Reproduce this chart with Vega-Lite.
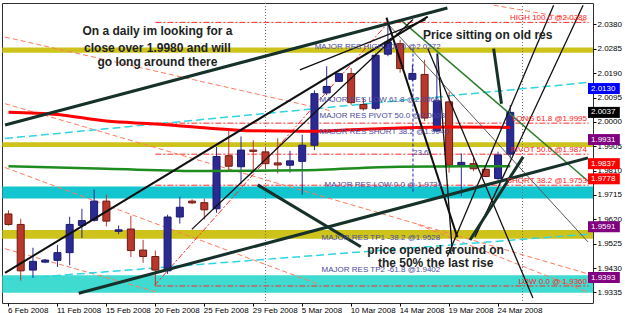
{
"$schema": "https://vega.github.io/schema/vega-lite/v6.json",
"width": 591, "height": 300,
"autosize": {"type": "none"},
"padding": {"left": 2, "top": 3, "right": 32, "bottom": 10},
"background": "#FFFFFF",
"config": {"view": {"stroke": "#303030", "strokeWidth": 1}, "axis": {"labelFont": "Liberation Sans", "labelFontSize": 8, "labelColor": "#000000", "tickColor": "#000000", "domain": false, "grid": false, "title": null, "labelOverlap": false, "labelFlush": false, "labelBound": false}},
"datasets": {
"candles": [
{"i":0,"o":1.9641,"h":1.9655,"l":1.9595,"c":1.9600},
{"i":1,"o":1.9600,"h":1.9622,"l":1.9381,"c":1.9419},
{"i":2,"o":1.9422,"h":1.9509,"l":1.9392,"c":1.9456},
{"i":3,"o":1.9453,"h":1.9465,"l":1.9449,"c":1.9461},
{"i":4,"o":1.9460,"h":1.9520,"l":1.9434,"c":1.9490},
{"i":5,"o":1.9490,"h":1.9630,"l":1.9441,"c":1.9600},
{"i":6,"o":1.9596,"h":1.9661,"l":1.9547,"c":1.9615},
{"i":7,"o":1.9616,"h":1.9736,"l":1.9611,"c":1.9691},
{"i":8,"o":1.9691,"h":1.9716,"l":1.9592,"c":1.9613},
{"i":9,"o":1.9573,"h":1.9596,"l":1.9562,"c":1.9579},
{"i":10,"o":1.9582,"h":1.9634,"l":1.9473,"c":1.9498},
{"i":11,"o":1.9500,"h":1.9540,"l":1.9450,"c":1.9475},
{"i":12,"o":1.9475,"h":1.9498,"l":1.9362,"c":1.9422},
{"i":13,"o":1.9419,"h":1.9638,"l":1.9407,"c":1.9629},
{"i":14,"o":1.9629,"h":1.9708,"l":1.9603,"c":1.9667},
{"i":15,"o":1.9691,"h":1.9698,"l":1.9679,"c":1.9684},
{"i":16,"o":1.9685,"h":1.9701,"l":1.9620,"c":1.9657},
{"i":17,"o":1.9661,"h":1.9902,"l":1.9645,"c":1.9865},
{"i":18,"o":1.9868,"h":1.9972,"l":1.9808,"c":1.9827},
{"i":19,"o":1.9825,"h":1.9943,"l":1.9758,"c":1.9890},
{"i":20,"o":1.9890,"h":1.9928,"l":1.9802,"c":1.9885},
{"i":21,"o":1.9883,"h":1.9900,"l":1.9815,"c":1.9837},
{"i":22,"o":1.9840,"h":1.9936,"l":1.9799,"c":1.9832},
{"i":23,"o":1.9831,"h":1.9887,"l":1.9802,"c":1.9848},
{"i":24,"o":1.9846,"h":1.9950,"l":1.9716,"c":1.9909},
{"i":25,"o":1.9909,"h":2.0123,"l":1.9890,"c":2.0110},
{"i":26,"o":2.0113,"h":2.0217,"l":2.0104,"c":2.0138},
{"i":27,"o":2.0158,"h":2.0192,"l":2.0155,"c":2.0188},
{"i":28,"o":2.0188,"h":2.0210,"l":2.0067,"c":2.0075},
{"i":29,"o":2.0068,"h":2.0093,"l":2.0044,"c":2.0051},
{"i":30,"o":2.0053,"h":2.0267,"l":2.0047,"c":2.0260},
{"i":31,"o":2.0264,"h":2.0388,"l":2.0256,"c":2.0311},
{"i":32,"o":2.0305,"h":2.0320,"l":2.0192,"c":2.0208},
{"i":33,"o":2.0166,"h":2.0223,"l":2.0158,"c":2.0189},
{"i":34,"o":2.0185,"h":2.0242,"l":2.0003,"c":2.0015},
{"i":35,"o":1.9965,"h":2.0267,"l":1.9959,"c":2.0082},
{"i":36,"o":2.0078,"h":2.0116,"l":1.9802,"c":1.9831},
{"i":37,"o":1.9830,"h":1.9877,"l":1.9710,"c":1.9842},
{"i":38,"o":1.9837,"h":1.9865,"l":1.9808,"c":1.9817},
{"i":39,"o":1.9815,"h":1.9818,"l":1.9784,"c":1.9787},
{"i":40,"o":1.9779,"h":1.9884,"l":1.9774,"c":1.9871},
{"i":41,"o":1.9874,"h":2.0066,"l":1.9857,"c":2.0037}
],
"redma": [{"i":0,"v":2.0038},{"i":4,"v":2.0029},{"i":8,"v":2.0003},{"i":12,"v":1.9992},{"i":16,"v":1.9977},{"i":20,"v":1.9965},{"i":24,"v":1.9963},{"i":28,"v":1.9969},{"i":32,"v":1.9976},{"i":36,"v":1.9980},{"i":41,"v":1.9978}],
"greenma": [{"i":0,"v":1.9827},{"i":8,"v":1.9817},{"i":16,"v":1.9808},{"i":24,"v":1.9811},{"i":32,"v":1.9825},{"i":41,"v":1.9827}],
"fib": [{"v":2.0388,"t":"HIGH 100.0 @2.0388"},{"v":1.9995,"t":"LONG 61.8 @1.9995"},{"v":1.9874,"t":"PIVOT 50.0 @1.9874"},{"v":1.9753,"t":"SHORT 38.2 @1.9753"},{"v":1.9360,"t":"LOW 0.0 @ 1.9360"}],
"major": [{"t":"MAJOR RES HIGH 100.0 @2.0272","i":25.02,"v":2.0272},{"t":"MAJOR RES LOW 61.8 @2.0066","i":25.42,"v":2.0066},{"t":"MAJOR RES PIVOT 50.0 @2.0003","i":25.42,"v":2.0003},{"t":"MAJOR RES SHORT 38.2 @1.9940","i":25.42,"v":1.9940},{"t":"MAJOR RES LOW 0.0 @ 1.9734","i":25.82,"v":1.9734},{"t":"MAJOR RES TP1 -38.2 @1.9528","i":25.58,"v":1.9528},{"t":"MAJOR RES TP2 -61.8 @1.9402","i":25.58,"v":1.9402},{"t":"23.6","i":33.05,"v":1.9861}],
"tags": [{"v":2.0130,"k":"blue"},{"v":2.0037,"k":"bid"},{"v":1.9931,"k":"purple"},{"v":1.9837,"k":"red"},{"v":1.9778,"k":"red"},{"v":1.9591,"k":"purple"},{"v":1.9393,"k":"purple"}],
"thick": [{"t1":-0.28,"p1":1.99879,"t2":35.86,"p2":2.04441},{"t1":5.74,"p1":1.93319,"t2":47.35,"p2":1.98597},{"t1":20.36,"p1":1.97542,"t2":28.79,"p2":1.95129},{"t1":37.71,"p1":1.95393,"t2":42.05,"p2":1.98635},{"t1":39.64,"p1":2.02858,"t2":40.28,"p2":2.00709}],
"medium": [{"t1":-0.28,"p1":1.94111,"t2":34.26,"p2":2.04102},{"t1":30.88,"p1":2.04064,"t2":36.67,"p2":1.95506}],
"thin": [{"t1":14.98,"p1":1.95808,"t2":33.05,"p2":2.03989},{"t1":23.81,"p1":2.02028,"t2":34.09,"p2":2.03989},{"t1":44.54,"p1":2.0455,"t2":35.86,"p2":1.94752},{"t1":46.95,"p1":2.0455,"t2":38.11,"p2":1.95506},{"t1":35.06,"p1":2.02669,"t2":36.26,"p2":1.94941},{"t1":34.26,"p1":2.02858,"t2":42.85,"p2":1.93131}],
"salmon": [{"t1":-0.28,"p1":2.0331,"t2":26.22,"p2":2.00445},{"t1":-0.28,"p1":2.00709,"t2":47.35,"p2":1.94073},{"t1":-0.28,"p1":1.9822,"t2":25.18,"p2":1.93696},{"t1":-0.28,"p1":1.95054,"t2":12.17,"p2":1.93357},{"t1":33.45,"p1":1.95996,"t2":47.35,"p2":1.93357},{"t1":39.64,"p1":2.0455,"t2":47.35,"p2":2.03913}],
"cyan": [{"t1":-0.28,"p1":1.99351,"t2":47.35,"p2":2.01538},{"t1":-0.28,"p1":1.93847,"t2":47.35,"p2":1.95619}],
"notes": [{"t":"On a daily im looking for a","i":12.17,"p":2.03536},{"t":"close over 1.9980 and will","i":12.17,"p":2.02895},{"t":"go long around there","i":12.17,"p":2.0233},{"t":"Price sitting on old res","i":39.16,"p":2.03385},{"t":"price opened around on","i":34.9,"p":1.95016},{"t":"the 50% the last rise","i":34.9,"p":1.94488}]
},
"layer": [
{"data": {"values": [{"lo":2.0270,"hi":2.0290},{"lo":1.9902,"hi":1.9921},{"lo":1.9544,"hi":1.9578}]},
 "mark": {"type":"rect","color":"#CDC31B","clip":true},
 "encoding": {"x":{"datum":-0.5,"type":"quantitative","scale":{"domain":[-0.12,47.35],"nice":false,"zero":false},"axis":{"values":[0,4,8,12,16,20,24,28,32,36,40],"tickCount":30,"labelExpr":"['6 Feb 2008','11 Feb 2008','15 Feb 2008','20 Feb 2008','25 Feb 2008','29 Feb 2008','5 Mar 2008','10 Mar 2008','14 Mar 2008','19 Mar 2008','24 Mar 2008'][round(datum.value/4)]","labelAlign":"left","labelFlush":false,"labelOverlap":false,"tickSize":3,"labelPadding":0,"labelOffset":-1,"title":null}},"x2":{"datum":48},
  "y":{"field":"lo","type":"quantitative","scale":{"domain":[1.93131,2.04441],"nice":false,"zero":false},"axis":{"orient":"right","values":[2.0380,2.0285,2.0190,2.0095,2.0000,1.9905,1.9810,1.9715,1.9620,1.9525,1.9430,1.9335],"tickCount":30,"format":".4f","tickSize":3,"labelPadding":1,"labelFlush":false,"labelOverlap":false,"labelBound":false,"title":null}},"y2":{"field":"hi"}}},
{"data": {"values": [{"lo":1.9701,"hi":1.9748}]},
 "mark": {"type":"rect","color":"#12C5CF","clip":true},
 "encoding": {"x":{"datum":-0.5,"scale":{"domain":[-0.12,47.35],"nice":false,"zero":false}},"x2":{"datum":48},"y":{"field":"lo","type":"quantitative","scale":{"domain":[1.93131,2.04441],"nice":false,"zero":false}},"y2":{"field":"hi"}}},
{"data": {"values": [{"lo":1.9334,"hi":1.9402}]},
 "mark": {"type":"rect","color":"#40DBD0","clip":true},
 "encoding": {"x":{"datum":-0.5,"scale":{"domain":[-0.12,47.35],"nice":false,"zero":false}},"x2":{"datum":48},"y":{"field":"lo","type":"quantitative","scale":{"domain":[1.93131,2.04441],"nice":false,"zero":false}},"y2":{"field":"hi"}}},
{"data": {"values": [{"i":21},{"i":42}]},
 "mark": {"type":"rule","color":"#707070","strokeDash":[1,2],"strokeWidth":1},
 "encoding": {"x":{"field":"i","type":"quantitative","scale":{"domain":[-0.12,47.35],"nice":false,"zero":false}}}},
{"mark": {"type":"rule","color":"#0000FF","strokeWidth":1.5}, "encoding": {"y":{"datum":2.0130,"scale":{"domain":[1.93131,2.04441],"nice":false,"zero":false}}}},
{"mark": {"type":"rule","color":"#505050","strokeWidth":1}, "encoding": {"y":{"datum":2.0037,"scale":{"domain":[1.93131,2.04441],"nice":false,"zero":false}}}},
{"mark": {"type":"rule","color":"#800080","strokeWidth":2.5}, "encoding": {"y":{"datum":1.9931,"scale":{"domain":[1.93131,2.04441],"nice":false,"zero":false}}}},
{"mark": {"type":"rule","color":"#FF0000","strokeWidth":1}, "encoding": {"y":{"datum":1.9837,"scale":{"domain":[1.93131,2.04441],"nice":false,"zero":false}}}},
{"mark": {"type":"rule","color":"#FF0000","strokeWidth":2}, "encoding": {"y":{"datum":1.9778,"scale":{"domain":[1.93131,2.04441],"nice":false,"zero":false}}}},
{"mark": {"type":"rule","color":"#800080","strokeWidth":1.2,"strokeDash":[2,1]}, "encoding": {"y":{"datum":1.9591,"scale":{"domain":[1.93131,2.04441],"nice":false,"zero":false}}}},
{"mark": {"type":"rule","color":"#4A4AC8","strokeWidth":1.5}, "encoding": {"y":{"datum":1.9393,"scale":{"domain":[1.93131,2.04441],"nice":false,"zero":false}}}},
{"data": {"name": "fib"},
 "mark": {"type":"rule","color":"#FF2A2A","strokeWidth":1,"strokeDash":[6,2,2,2],"clip":true},
 "encoding": {"x":{"datum":12,"scale":{"domain":[-0.12,47.35],"nice":false,"zero":false}},"x2":{"datum":47.4},"y":{"field":"v","type":"quantitative","scale":{"domain":[1.93131,2.04441],"nice":false,"zero":false}}}},
{"data": {"name": "salmon"},
 "mark": {"type":"rule","color":"#FF7A5C","strokeWidth":1,"strokeDash":[5,3],"clip":true},
 "encoding": {"x":{"field":"t1","type":"quantitative","scale":{"domain":[-0.12,47.35],"nice":false,"zero":false}},"x2":{"field":"t2"},"y":{"field":"p1","type":"quantitative","scale":{"domain":[1.93131,2.04441],"nice":false,"zero":false}},"y2":{"field":"p2"}}},
{"data": {"name": "cyan"},
 "mark": {"type":"rule","color":"#2ED6E0","strokeWidth":1.5,"strokeDash":[8,4],"clip":true},
 "encoding": {"x":{"field":"t1","type":"quantitative","scale":{"domain":[-0.12,47.35],"nice":false,"zero":false}},"x2":{"field":"t2"},"y":{"field":"p1","type":"quantitative","scale":{"domain":[1.93131,2.04441],"nice":false,"zero":false}},"y2":{"field":"p2"}}},
{"data": {"values": [{"t1":11.93,"p1":1.93621,"t2":31.04,"p2":2.03875}]},
 "mark": {"type":"rule","color":"#FF2A2A","strokeWidth":1,"strokeDash":[6,2,2,2],"clip":true},
 "encoding": {"x":{"field":"t1","type":"quantitative","scale":{"domain":[-0.12,47.35],"nice":false,"zero":false}},"x2":{"field":"t2"},"y":{"field":"p1","type":"quantitative","scale":{"domain":[1.93131,2.04441],"nice":false,"zero":false}},"y2":{"field":"p2"}}},
{"data": {"values": [{"t1":33.05,"p1":2.02858,"t2":33.05,"p2":1.97278}]},
 "mark": {"type":"rule","color":"#2424C0","strokeWidth":1,"strokeDash":[3,2],"clip":true},
 "encoding": {"x":{"field":"t1","type":"quantitative","scale":{"domain":[-0.12,47.35],"nice":false,"zero":false}},"x2":{"field":"t2"},"y":{"field":"p1","type":"quantitative","scale":{"domain":[1.93131,2.04441],"nice":false,"zero":false}},"y2":{"field":"p2"}}},
{"data": {"name": "candles"},
 "mark": {"type":"rule","strokeWidth":1,"clip":true},
 "encoding": {"x":{"field":"i","type":"quantitative","scale":{"domain":[-0.12,47.35],"nice":false,"zero":false}},
  "y":{"field":"l","type":"quantitative","scale":{"domain":[1.93131,2.04441],"nice":false,"zero":false}},
  "y2":{"field":"h"},
  "color":{"condition":{"test":"datum.c>=datum.o","value":"#2B2A93"},"value":"#B83A2E"}}},
{"data": {"name": "candles"},
 "mark": {"type":"bar","width":7,"strokeWidth":1,"clip":true},
 "encoding": {"x":{"field":"i","type":"quantitative","scale":{"domain":[-0.12,47.35],"nice":false,"zero":false}},
  "y":{"field":"o","type":"quantitative","scale":{"domain":[1.93131,2.04441],"nice":false,"zero":false}},
  "y2":{"field":"c"},
  "fill":{"condition":{"test":"datum.c>=datum.o","value":"#2B2A93"},"value":"#B8382C"},
  "stroke":{"condition":{"test":"datum.c>=datum.o","value":"#1B1A6E"},"value":"#6E1A12"}}},
{"data": {"name": "redma"},
 "mark": {"type":"line","color":"#FF0000","strokeWidth":3,"interpolate":"monotone","clip":true},
 "encoding": {"x":{"field":"i","type":"quantitative","scale":{"domain":[-0.12,47.35],"nice":false,"zero":false}},"y":{"field":"v","type":"quantitative","scale":{"domain":[1.93131,2.04441],"nice":false,"zero":false}}}},
{"data": {"name": "greenma"},
 "mark": {"type":"line","color":"#1E8C1E","strokeWidth":2.5,"interpolate":"monotone","clip":true},
 "encoding": {"x":{"field":"i","type":"quantitative","scale":{"domain":[-0.12,47.35],"nice":false,"zero":false}},"y":{"field":"v","type":"quantitative","scale":{"domain":[1.93131,2.04441],"nice":false,"zero":false}}}},
{"data": {"values": [{"t1":31.04,"p1":2.0380,"t2":47.35,"p2":1.95318}]},
 "mark": {"type":"rule","color":"#5A5A5A","strokeWidth":1,"clip":true},
 "encoding": {"x":{"field":"t1","type":"quantitative","scale":{"domain":[-0.12,47.35],"nice":false,"zero":false}},"x2":{"field":"t2"},"y":{"field":"p1","type":"quantitative","scale":{"domain":[1.93131,2.04441],"nice":false,"zero":false}},"y2":{"field":"p2"}}},
{"data": {"values": [{"t1":32.01,"p1":2.03989,"t2":47.35,"p2":1.97693}]},
 "mark": {"type":"rule","color":"#2E7D2E","strokeWidth":1.5,"clip":true},
 "encoding": {"x":{"field":"t1","type":"quantitative","scale":{"domain":[-0.12,47.35],"nice":false,"zero":false}},"x2":{"field":"t2"},"y":{"field":"p1","type":"quantitative","scale":{"domain":[1.93131,2.04441],"nice":false,"zero":false}},"y2":{"field":"p2"}}},
{"data": {"name": "thin"},
 "mark": {"type":"rule","color":"#101010","strokeWidth":1.3,"clip":true},
 "encoding": {"x":{"field":"t1","type":"quantitative","scale":{"domain":[-0.12,47.35],"nice":false,"zero":false}},"x2":{"field":"t2"},"y":{"field":"p1","type":"quantitative","scale":{"domain":[1.93131,2.04441],"nice":false,"zero":false}},"y2":{"field":"p2"}}},
{"data": {"name": "medium"},
 "mark": {"type":"rule","color":"#101010","strokeWidth":2,"clip":true},
 "encoding": {"x":{"field":"t1","type":"quantitative","scale":{"domain":[-0.12,47.35],"nice":false,"zero":false}},"x2":{"field":"t2"},"y":{"field":"p1","type":"quantitative","scale":{"domain":[1.93131,2.04441],"nice":false,"zero":false}},"y2":{"field":"p2"}}},
{"data": {"name": "thick"},
 "mark": {"type":"rule","color":"#16302A","strokeWidth":3,"clip":true},
 "encoding": {"x":{"field":"t1","type":"quantitative","scale":{"domain":[-0.12,47.35],"nice":false,"zero":false}},"x2":{"field":"t2"},"y":{"field":"p1","type":"quantitative","scale":{"domain":[1.93131,2.04441],"nice":false,"zero":false}},"y2":{"field":"p2"}}},
{"mark": {"type":"point","shape":"triangle-up","filled":true,"color":"#16302A","size":170,"angle":301,"opacity":1},
 "encoding": {"x":{"datum":20.71,"scale":{"domain":[-0.12,47.35],"nice":false,"zero":false}},"y":{"datum":1.97444,"scale":{"domain":[1.93131,2.04441],"nice":false,"zero":false}}}},
{"mark": {"type":"point","shape":"triangle-up","filled":true,"color":"#16302A","size":170,"angle":32,"opacity":1},
 "encoding": {"x":{"datum":41.83,"scale":{"domain":[-0.12,47.35],"nice":false,"zero":false}},"y":{"datum":1.98477,"scale":{"domain":[1.93131,2.04441],"nice":false,"zero":false}}}},
{"mark": {"type":"point","shape":"triangle-up","filled":true,"color":"#16302A","size":170,"angle":172,"opacity":1},
 "encoding": {"x":{"datum":40.22,"scale":{"domain":[-0.12,47.35],"nice":false,"zero":false}},"y":{"datum":2.00897,"scale":{"domain":[1.93131,2.04441],"nice":false,"zero":false}}}},
{"data": {"name": "major"},
 "mark": {"type":"text","align":"left","baseline":"bottom","dy":-1,"font":"Liberation Sans","fontSize":8,"color":"#4A4A9A"},
 "encoding": {"x":{"field":"i","type":"quantitative","scale":{"domain":[-0.12,47.35],"nice":false,"zero":false}},"y":{"field":"v","type":"quantitative","scale":{"domain":[1.93131,2.04441],"nice":false,"zero":false}},"text":{"field":"t"}}},
{"data": {"name": "fib"},
 "mark": {"type":"text","align":"right","baseline":"bottom","dx":-1,"dy":0,"font":"Liberation Sans","fontSize":8,"color":"#FF2020"},
 "encoding": {"x":{"datum":47.35,"scale":{"domain":[-0.12,47.35],"nice":false,"zero":false}},"y":{"field":"v","type":"quantitative","scale":{"domain":[1.93131,2.04441],"nice":false,"zero":false}},"text":{"field":"t"}}},
{"data": {"name": "notes"},
 "mark": {"type":"text","align":"center","baseline":"middle","font":"Liberation Sans","fontSize":12,"fontWeight":"bold","color":"#1C2424"},
 "encoding": {"x":{"field":"i","type":"quantitative","scale":{"domain":[-0.12,47.35],"nice":false,"zero":false}},"y":{"field":"p","type":"quantitative","scale":{"domain":[1.93131,2.04441],"nice":false,"zero":false}},"text":{"field":"t"}}},
{"mark": {"type":"text","align":"left","baseline":"middle","font":"Liberation Sans","fontSize":8,"color":"#000000"},
 "encoding": {"x":{"datum":0.12,"scale":{"domain":[-0.12,47.35],"nice":false,"zero":false}},"y":{"datum":2.04215,"scale":{"domain":[1.93131,2.04441],"nice":false,"zero":false}},"text":{"value":"GBPUSD,Daily  1.9874 2.0066 1.9857 2.0037"}}},
{"mark": {"type":"text","align":"left","baseline":"middle","font":"Liberation Sans","fontSize":8,"color":"#000000"},
 "encoding": {"x":{"datum":0.04,"scale":{"domain":[-0.12,47.35],"nice":false,"zero":false}},"y":{"datum":1.93508,"scale":{"domain":[1.93131,2.04441],"nice":false,"zero":false}},"text":{"value":"ODL MetaTrader, © 2001-2008 MetaQuotes Software Corp."}}},
{"data": {"name": "tags"},
 "mark": {"type":"bar","height":11,"clip":false},
 "encoding": {"x":{"datum":47.35,"scale":{"domain":[-0.12,47.35],"nice":false,"zero":false}},"x2":{"datum":49.95},"y":{"field":"v","type":"quantitative","scale":{"domain":[1.93131,2.04441],"nice":false,"zero":false}},
  "color":{"field":"k","type":"nominal","scale":{"domain":["blue","bid","purple","red"],"range":["#0000FF","#000000","#800080","#FF0000"]},"legend":null}}},
{"data": {"name": "tags"},
 "mark": {"type":"text","align":"left","baseline":"middle","dx":3,"font":"Liberation Sans","fontSize":8,"color":"#FFFFFF","clip":false},
 "encoding": {"x":{"datum":47.35,"scale":{"domain":[-0.12,47.35],"nice":false,"zero":false}},"y":{"field":"v","type":"quantitative","scale":{"domain":[1.93131,2.04441],"nice":false,"zero":false}},"text":{"field":"v","type":"quantitative","format":".4f"}}}
]
}
